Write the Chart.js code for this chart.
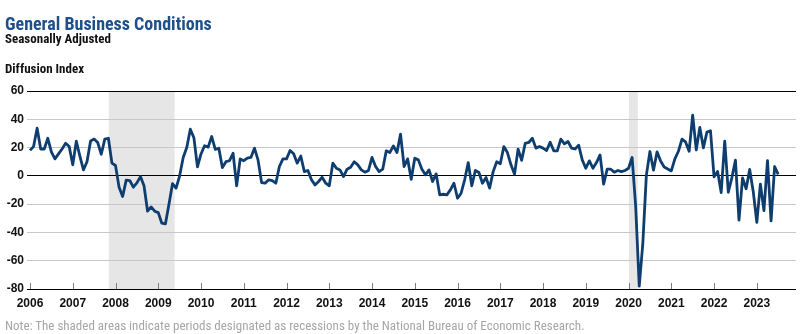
<!DOCTYPE html>
<html><head><meta charset="utf-8">
<script src="https://cdn.jsdelivr.net/npm/chart.js@4/dist/chart.umd.min.js"></script>
<style>
html,body{margin:0;padding:0;background:#fff;}
#wrap{position:relative;width:810px;height:334px;overflow:hidden;font-family:"Liberation Sans Narrow","Arial Narrow","Roboto Condensed",sans-serif;}
.t{position:absolute;left:5px;white-space:nowrap;}
#title{top:15px;font-size:18px;line-height:18px;font-weight:bold;color:#1d4f8b;}
#sub{top:32px;font-size:13px;line-height:13px;font-weight:bold;color:#111;}
#yl{top:62px;font-size:13px;line-height:13px;font-weight:bold;color:#111;}
#note{top:319px;font-size:13px;line-height:13px;color:#a6a6a6;}
canvas{position:absolute;left:0;top:0;}
</style></head>
<body>
<div id="wrap">
<canvas id="c" width="810" height="334"></canvas>
<div class="t" id="title">General Business Conditions</div>
<div class="t" id="sub">Seasonally Adjusted</div>
<div class="t" id="yl">Diffusion Index</div>
<div class="t" id="note">Note: The shaded areas indicate periods designated as recessions by the National Bureau of Economic Research.</div>
</div>
<script>
// ---- data ----
const tickYears = ['2006','2007','2008','2009','2010','2011','2012','2013','2014','2015','2016','2017','2018','2019','2020','2021','2022','2023'];
const monthNames = ['01','02','03','04','05','06','07','08','09','10','11','12'];
const generalBusinessConditions = [
  // 2006
  18, 20.7, 33.7, 19, 19, 26.6, 17, 12, 15.5, 19, 23, 20.7,
  // 2007
  7.8, 24.5, 14, 4.2, 10, 24.7, 26, 23.6, 15.3, 26, 26.6, 9,
  // 2008
  7.3, -8, -14.6, -3, -3.3, -8, -5, -0.5, -7, -25, -22, -25,
  // 2009
  -26, -33.5, -34, -20, -5.5, -8.7, 0, 13, 20, 33, 27, 6.3,
  // 2010
  15.5, 21.3, 20.3, 27.8, 18.7, 19.5, 5.8, 10, 10.7, 16, -7, 12,
  // 2011
  10.7, 12.5, 13, 19.6, 11.3, -4.7, -5.2, -2.8, -3.3, -5.2, 6.6, 12,
  // 2012
  12, 17.9, 15.6, 9, 14, 3, 3.8, -2.8, -6.4, -4, -1, -5.2,
  // 2013
  -7, 9, 5.4, 4.2, -0.5, 4.7, 6.1, 10, 7.8, 4.2, 2.6, 3.8,
  // 2014
  13, 6.6, 3, 4.7, 17.7, 16.5, 21.2, 16.5, 29.5, 6.6, 12, -2.4,
  // 2015
  12.5, 11.3, 4.7, 0.7, 4.2, -4, 1.4, -13.4, -13, -13.4, -9.9, -5.2,
  // 2016
  -15.8, -12.3, -2.8, 9.4, -7, 3.8, 2.4, -5.2, -1.2, -8.7, 3, 10,
  // 2017
  8.5, 20.7, 16.5, 7.8, 1.2, 18.9, 11, 23, 23.6, 26.6, 19.6, 20.7,
  // 2018
  19.6, 17.9, 23.8, 17.7, 17.7, 26, 22.6, 24.3, 19.6, 19, 21.7, 11.3,
  // 2019
  5.4, 10.6, 5.4, 9.4, 14.8, -5.9, 4.7, 4.7, 2.6, 3.8, 3, 3.8,
  // 2020
  5.4, 13, -21.5, -78, -48, 0.5, 17.2, 4, 17, 10.5, 6.3, 4.9,
  // 2021
  3.5, 12, 17.4, 26, 24, 17.4, 43, 18.3, 34.3, 19.8, 30.9, 31.9,
  // 2022
  -0.7, 3.1, -11.8, 24.6, -11.6, -1.2, 11.1, -31.3, -1.5, -9.1, 4.5, -11.2,
  // 2023
  -32.9, -5.8, -24.6, 10.8, -31.8, 6.6, 1.1
];
const recessionStart = ['2007-12', '2020-02'];
const recessionEnd   = ['2009-06', '2020-04'];
const yTicks = [60, 40, 20, 0, -20, -40, -60, -80];

// month categories (Jan 2006 .. Dec 2023)
const months = [];
tickYears.forEach(y => monthNames.forEach(m => months.push(y + '-' + m)));

const FONT = '"Liberation Sans Narrow","Arial Narrow",sans-serif';

const recessionPlugin = {
  id: 'recessions',
  beforeDraw(chart) {
    const {ctx, chartArea, scales: {x}} = chart;
    ctx.save();
    ctx.fillStyle = '#e6e6e6';
    recessionStart.forEach((s, i) => {
      const a = x.getPixelForValue(months.indexOf(s) - 0.9);
      const b = x.getPixelForValue(months.indexOf(recessionEnd[i]) - 0.4);
      ctx.fillRect(a, chartArea.top + 1, b - a, chartArea.bottom - chartArea.top - 1);
    });
    ctx.restore();
  }
};

const yearTickPlugin = {
  id: 'yearTicks',
  afterDatasetsDraw(chart) {
    const {ctx, chartArea, scales: {x}} = chart;
    ctx.save();
    ctx.strokeStyle = '#6f7f99';
    ctx.lineWidth = 1;
    tickYears.forEach(y => {
      const px = Math.round(x.getPixelForValue(months.indexOf(y + '-01'))) + 0.5;
      ctx.beginPath();
      ctx.moveTo(px, chartArea.bottom - 6);
      ctx.lineTo(px, chartArea.bottom);
      ctx.stroke();
    });
    ctx.restore();
  }
};

new Chart(document.getElementById('c'), {
  type: 'line',
  data: {
    labels: months,
    datasets: [{
      data: generalBusinessConditions,
      borderColor: '#0e3d6f',
      borderWidth: 2.8,
      pointRadius: 0,
      tension: 0,
      fill: false,
      borderJoinStyle: 'round'
    }]
  },
  options: {
    responsive: false,
    animation: false,
    devicePixelRatio: 1,
    layout: {padding: {top: 91, left: 0, right: 14, bottom: 0}},
    plugins: {legend: {display: false}, tooltip: {enabled: false}, title: {display: false}},
    scales: {
      x: {
        type: 'category',
        offset: false,
        grid: {display: false},
        border: {display: false},
        afterFit(s) { s.height = 45; },
        ticks: {
          autoSkip: false,
          maxRotation: 0,
          minRotation: 0,
          padding: -1,
          color: '#111',
          font: {family: FONT, size: 12, weight: 'bold'},
          callback(v, i) { return months[i] && months[i].endsWith('-01') ? months[i].slice(0, 4) : ''; }
        }
      },
      y: {
        min: -80,
        max: 60,
        afterFit(s) { s.width = 30; },
        afterBuildTicks(s) { s.ticks = yTicks.map(v => ({value: v})); },
        border: {display: false},
        grid: {
          drawTicks: true,
          tickLength: 3,
          lineWidth: 1,
          color: c => (c.tick && (c.tick.value === 0 || c.tick.value === 60 || c.tick.value === -80)) ? '#000' : '#c8c8c8',
          tickColor: c => (c.tick && (c.tick.value === 0 || c.tick.value === 60 || c.tick.value === -80)) ? '#000' : '#c8c8c8'
        },
        ticks: {
          padding: 3,
          color: '#111',
          font: {family: FONT, size: 12, weight: 'bold'}
        }
      }
    }
  },
  plugins: [recessionPlugin, yearTickPlugin]
});
</script>
</body></html>
